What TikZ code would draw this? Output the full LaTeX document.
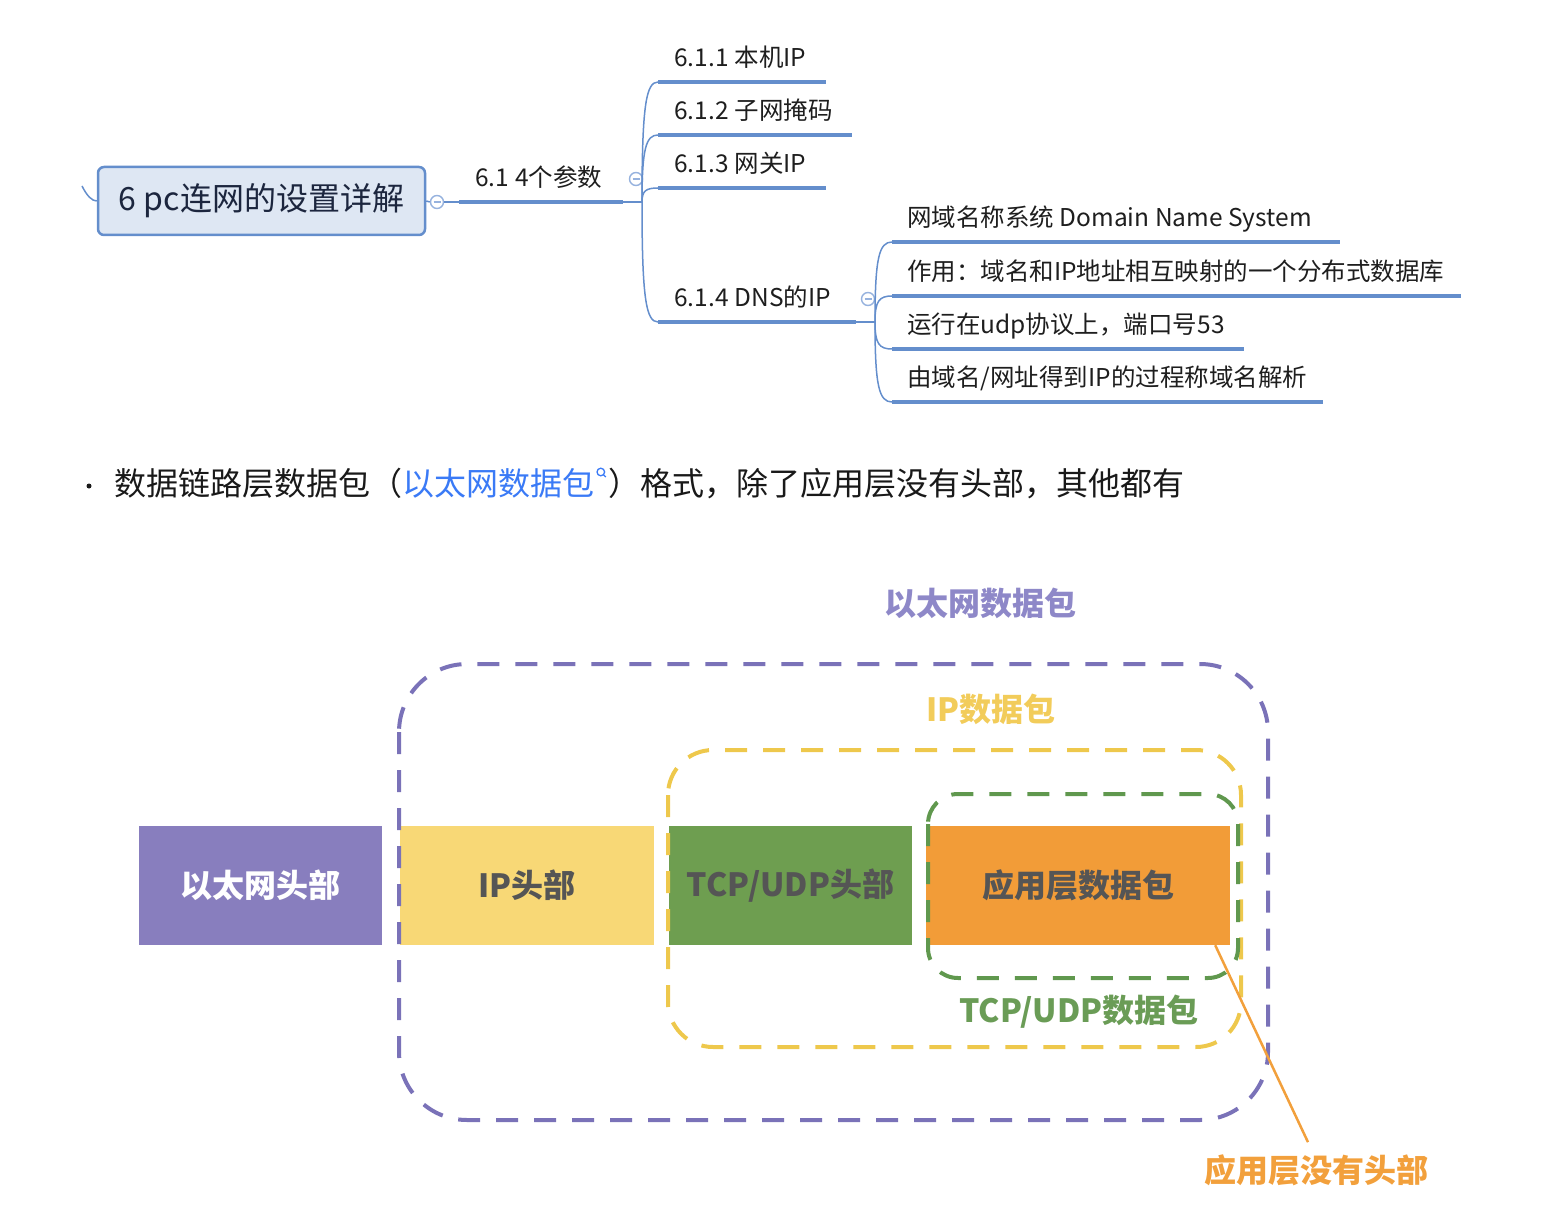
\documentclass[tikz,border=0pt]{standalone}
\usepackage{fontspec}
\setmainfont{Noto Sans CJK SC}
\usetikzlibrary{positioning}

\definecolor{mmblue}{RGB}{100,142,204}
\definecolor{mmfold}{RGB}{150,178,222}
\definecolor{rootfill}{RGB}{222,231,243}
\definecolor{roottext}{RGB}{28,38,62}
\definecolor{mmtext}{RGB}{30,30,30}
\definecolor{bodytext}{RGB}{25,25,25}
\definecolor{linkblue}{RGB}{58,122,246}
\definecolor{ethfill}{RGB}{136,126,190}
\definecolor{ethline}{RGB}{122,114,184}
\definecolor{ethlabel}{RGB}{142,136,200}
\definecolor{ipfill}{RGB}{248,216,118}
\definecolor{ipline}{RGB}{238,200,76}
\definecolor{iplabel}{RGB}{242,204,90}
\definecolor{tcpfill}{RGB}{110,158,80}
\definecolor{tcpline}{RGB}{96,152,78}
\definecolor{tcplabel}{RGB}{106,156,86}
\definecolor{appfill}{RGB}{242,156,56}
\definecolor{appline}{RGB}{242,160,60}
\definecolor{pkttext}{RGB}{85,85,85}

\newcommand{\mmfont}{\fontsize{24.5}{28}\selectfont}
\newcommand{\rootfont}{\fontsize{32}{38}\selectfont}
\newcommand{\bulletfont}{\fontsize{32}{38}\selectfont}
\newcommand{\pktfont}{\fontsize{32}{38}\selectfont\bfseries}

\begin{document}
\begin{tikzpicture}[x=1pt, y=-1pt,
		mmline/.style={draw=mmblue, line width=1.5pt},
		mmthick/.style={draw=mmblue, line width=4.5pt},
		mmlabel/.style={anchor=base west, inner sep=0, font=\mmfont, text=mmtext},
		fold/.style={draw=mmfold, circle, line width=1.4pt, minimum size=13pt, inner sep=0, fill=white},
		pkt/.style={inner sep=0, minimum height=119pt, font=\pktfont},
		dashbox/.style={line width=4pt, dash pattern=on 22pt off 16pt},
		pktlabel/.style={inner sep=0, font=\pktfont}]
		\useasboundingbox (0,0) rectangle (1566,1222);
		
		% mind map
		\node[draw=mmblue, line width=2.5pt, fill=rootfill, rounded corners=6pt, minimum width=327pt, minimum height=68pt, text=roottext, font=\rootfont] (root) at (261.5,201) {6 pc连网的设置详解};
		\coordinate (stub) at (82,186);
		\draw[mmline] (stub) .. controls (87,196) and (92,201) .. (root.west);
		
		\node[fold] (f0) at (437,202) {};
		\node[fold] (f1) at (636,179) {};
		\node[fold] (f2) at (868,299) {};
		\foreach \f in {f0,f1,f2}
			\draw[mmfold, line width=1.4pt] ([xshift=-3.5pt]\f.center) -- ([xshift=3.5pt]\f.center);
		
		\coordinate (hub1) at (642,202);
		\coordinate (u1s) at (459,202);
		\coordinate (u1e) at (623,202);
		\node[mmlabel] (t61) at (475,187) {6.1\hspace{6pt}4个参数};
		\draw[mmline] (root.east) -- (f0.west);
		\draw[mmline] (f0.east) -- (hub1);
		\draw[mmthick] (u1s) -- (u1e);
		
		\foreach \n/\y/\e/\t in {a/82/826/{6.1.1\hspace{6pt}本机IP}, b/135/852/{6.1.2\hspace{6pt}子网掩码}, c/188/826/{6.1.3\hspace{6pt}网关IP}, d/322/856/{6.1.4\hspace{6pt}DNS的IP}} {
			\coordinate (s\n) at (658,\y);
			\coordinate (e\n) at (\e,\y);
			\node[mmlabel] (t\n) at (674,{\y-15}) {\t};
			\draw[mmline] (hub1) .. controls (642,{202+0.8*(\y-202)}) and (646,\y) .. (s\n);
			\draw[mmthick] (s\n) -- (e\n);
		}
		
		\coordinate (hub2) at (875,322);
		\draw[mmline] (ed) -- (hub2);
		\foreach \n/\y/\e/\t in {p/242/1340/{网域名称系统 Domain Name System}, q/296/1461/{作用：域名和IP地址相互映射的一个分布式数据库}, r/349/1244/{运行在udp协议上，端口号53}, s/402/1323/{由域名/网址得到IP的过程称域名解析}} {
			\coordinate (s\n) at (892,\y);
			\coordinate (e\n) at (\e,\y);
			\node[mmlabel] (t\n) at (907,{\y-15}) {\t};
			\draw[mmline] (hub2) .. controls (875,{322+0.8*(\y-322)}) and (879,\y) .. (s\n);
			\draw[mmthick] (s\n) -- (e\n);
		}
		
		% bullet line
		\node[circle, fill=bodytext, inner sep=0, minimum size=5pt] (dot) at (89,486) {};
		\node[anchor=base west, inner sep=0, font=\bulletfont, text=bodytext] (bl1) at (114,495) {数据链路层数据包（};
		\node[anchor=base west, inner sep=0, font=\bulletfont, text=linkblue] (blink) at (bl1.base east) {以太网数据包};
		\draw[linkblue, line width=1.3pt] ([xshift=6pt, yshift=23pt]blink.base east) circle (3.8pt);
		\draw[linkblue, line width=1.3pt] ([xshift=8.7pt, yshift=20.3pt]blink.base east) -- ([xshift=11pt, yshift=18pt]blink.base east);
		\node[anchor=base west, inner sep=0, font=\bulletfont, text=bodytext] (bl2) at ([xshift=13pt]blink.base east) {）格式，除了应用层没有头部，其他都有};
		
		% packet
		\node[pkt, fill=ethfill, minimum width=243pt, text=white] (eth) at (260.5,885.5) {以太网头部};
		\node[pkt, fill=ipfill, minimum width=254pt, text=pkttext] (ip) at (527,885.5) {\raisebox{-4pt}{IP头部}};
		\node[pkt, fill=tcpfill, minimum width=243pt, text=pkttext] (tcp) at (790.5,885.5) {TCP/UDP头部};
		\node[pkt, fill=appfill, minimum width=304pt, text=pkttext] (app) at (1078,885.5) {应用层数据包};
		
		\draw[dashbox, ethline, rounded corners=68pt] (399,664) rectangle (1268,1120);
		\draw[dashbox, ipline, rounded corners=45pt] (668,750) rectangle (1241,1047);
		\draw[dashbox, tcpline, rounded corners=30pt] (928,794) rectangle (1238,978);
		
		\node[pktlabel, text=ethlabel] (ethlbl) at (980,603) {以太网数据包};
		\node[pktlabel, text=iplabel] (iplbl) at (991,709) {IP数据包};
		\node[pktlabel, text=tcplabel] (tcplbl) at (1079,1012) {TCP/UDP数据包};
		\node[pktlabel, text=appline] (nohdr) at (1316,1170) {应用层没有头部};
		\draw[appline, line width=2.5pt] ([xshift=-15pt]app.south east) -- ([xshift=-8pt, yshift=12pt]nohdr.north);
		
\end{tikzpicture}
\end{document}
